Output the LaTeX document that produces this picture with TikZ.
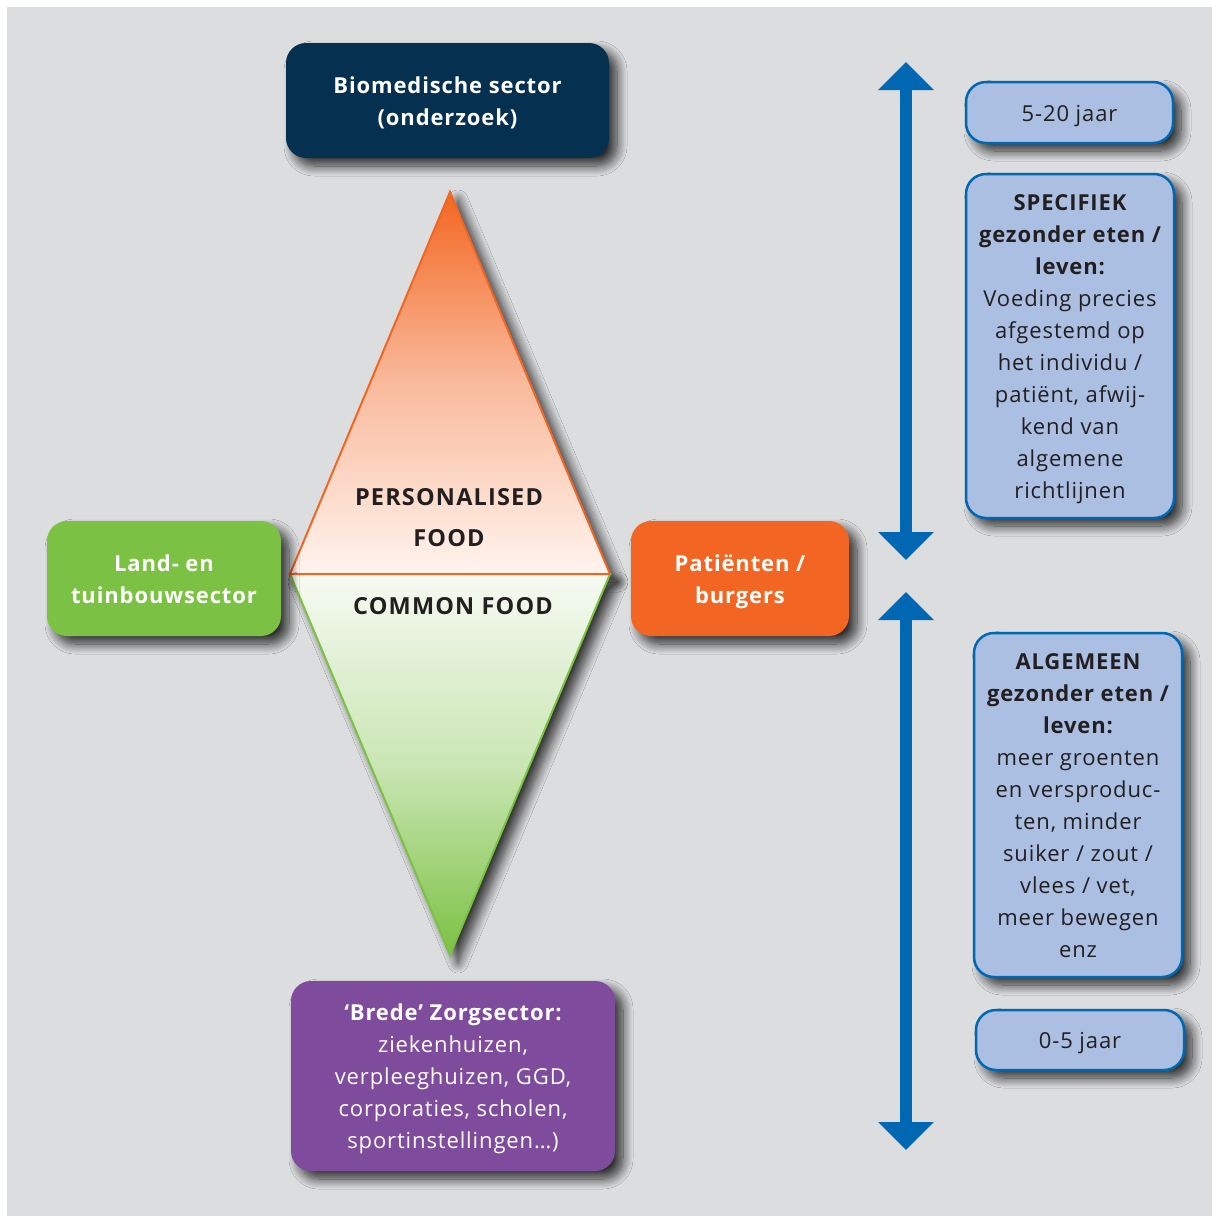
\documentclass[tikz,border=0pt]{standalone}
\usepackage{fontspec}
\setmainfont{Open Sans}
\newfontfamily\boxfont[LetterSpace=4]{Open Sans}
\newfontfamily\trifont[LetterSpace=5]{Open Sans}
\usetikzlibrary{shadows.blur,arrows.meta}
\definecolor{bggray}{HTML}{DCDDDF}
\definecolor{navy}{HTML}{05304F}
\definecolor{leafgreen}{HTML}{7BC143}
\definecolor{carrot}{HTML}{F26522}
\definecolor{plum}{HTML}{7E4B9D}
\definecolor{arrowblue}{HTML}{0067B2}
\definecolor{paleblue}{HTML}{ABBFE2}
\definecolor{ink}{HTML}{231F20}
\definecolor{peach}{HTML}{FFF4EE}
\definecolor{mint}{HTML}{F6FAF2}
\tikzset{
  shad/.style={blur shadow={shadow xshift=8pt, shadow yshift=-8pt, shadow blur radius=10pt, shadow opacity=80, shadow blur steps=12}},
  colbox/.style={shad, rounded corners=20pt, inner sep=0pt, align=center, text=white,
     font=\boxfont\fontsize{22}{32}\selectfont\bfseries},
  infobox/.style={shad, rounded corners=20pt, inner sep=0pt, align=center, text=ink,
     draw=arrowblue, line width=2.5pt, fill=paleblue, font=\boxfont\fontsize{22}{32}\selectfont},
  tritext/.style={text=ink, font=\trifont\fontsize{23.5}{32}\selectfont\bfseries, inner sep=0pt},
  nlines/.style={text height=#1, text depth=0pt},
  bigarrow/.style={arrowblue, line width=12pt,
     {Triangle[width=54pt,length=28pt]}-{Triangle[width=54pt,length=28pt]}},
}
\begin{document}
\begin{tikzpicture}[x=1pt,y=-1pt]
\useasboundingbox (0,0) rectangle (1212,1216);
\fill[bggray] (7,7) rectangle (1212,1216);

% triangles
\coordinate (apexT) at (450,192);
\coordinate (apexB) at (450,955);
\coordinate (midL) at (290,574);
\coordinate (midR) at (610,574);
\filldraw[shad, top color=carrot!95!orange, bottom color=peach, middle color=carrot!45!white,
  draw=carrot, line width=2pt, line join=miter]
  (apexT) -- (midR) -- (midL) -- cycle;
\filldraw[shad, top color=mint, bottom color=leafgreen, middle color=leafgreen!40!white,
  draw=leafgreen, line width=2pt]
  (midL) -- (midR) -- (apexB) -- cycle;
\draw[carrot, line width=2pt] (midL) -- (midR);

\node[tritext] (pers) at (449,497) {PERSONALISED};
\node[tritext] (food) at (449,538) {FOOD};
\node[tritext] (common) at (453,606) {COMMON FOOD};

% coloured boxes
\node[colbox, nlines=49pt, fill=navy, minimum width=323pt, minimum height=115pt] (bio) at (447.5,100.5)
  {Biomedische sector\\(onderzoek)};
\node[colbox, nlines=49pt, fill=leafgreen, minimum width=234pt, minimum height=115pt] (land) at (164,578.5)
  {Land- en\\tuinbouwsector};
\node[colbox, nlines=49pt, fill=carrot, minimum width=218pt, minimum height=115pt] (pat) at (740,578.5)
  {Patiënten /\\burgers};
\node[colbox, nlines=145pt, fill=plum, minimum width=324pt, minimum height=190pt] (zorg) at (453,1076)
  {‘Brede’ Zorgsector:\\\mdseries ziekenhuizen,\\\mdseries verpleeghuizen, GGD,\\\mdseries corporaties, scholen,\\\mdseries sportinstellingen…)};

% arrows
\coordinate (a1top) at (906,62);
\coordinate (a1bot) at (906,560);
\coordinate (a2top) at (906,592);
\coordinate (a2bot) at (906,1150);
\draw[bigarrow] (a1top) -- (a1bot);
\draw[bigarrow] (a2top) -- (a2bot);

% info boxes
\node[infobox, nlines=17pt, minimum width=207pt, minimum height=61pt] (long) at (1069.5,112.5) {5-20 jaar};
\node[infobox, nlines=305pt, minimum width=208pt, minimum height=344pt] (spec) at (1070,346)
  {\bfseries SPECIFIEK\\\bfseries gezonder eten /\\\bfseries leven:\\Voeding precies\\afgestemd op\\het individu /\\patiënt, afwij-\\kend van\\algemene\\richtlijnen};
\node[infobox, nlines=305pt, minimum width=208pt, minimum height=344pt] (alg) at (1078,805)
  {\bfseries ALGEMEEN\\\bfseries gezonder eten /\\\bfseries leven:\\meer groenten\\en versproduc-\\ten, minder\\suiker / zout /\\vlees / vet,\\meer bewegen\\enz};
\node[infobox, nlines=17pt, minimum width=208pt, minimum height=60pt] (short) at (1080,1040) {0-5 jaar};
\end{tikzpicture}
\end{document}
